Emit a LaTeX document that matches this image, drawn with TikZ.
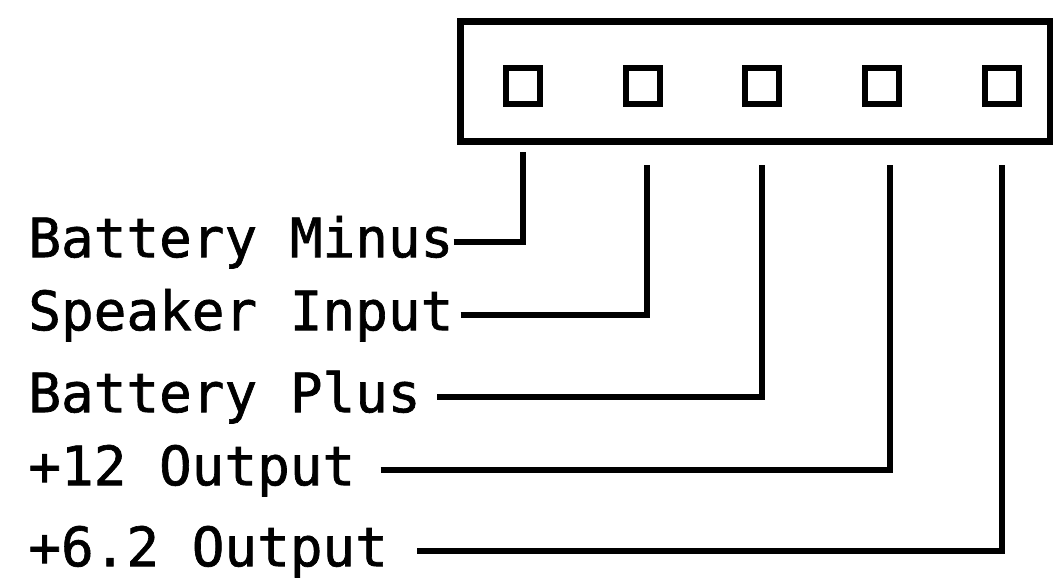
\documentclass[tikz,border=0pt]{standalone}
\usepackage{fontspec}
\newfontfamily\pinfont[FakeBold=1.2]{DejaVu Sans Mono}

\begin{document}
\begin{tikzpicture}[
conn/.style={draw=black,line width=0.14cm,minimum width=11.8cm,minimum height=2.4cm,inner sep=0pt},
pin/.style={draw=black,line width=0.12cm,minimum width=0.68cm,minimum height=0.72cm,inner sep=0pt},
lbl/.style={font=\pinfont\fontsize{30.9pt}{36pt}\selectfont,anchor=west,inner sep=0pt,text height=23.5pt,text depth=6.2pt},
lead/.style={draw=black,line width=0.12cm}]
\useasboundingbox (0,0) rectangle (21.06,-11.58);
% connector body and its five pins
\node[conn] (block) at (15.1,-1.64) {};
\node[pin] (p1) at (10.46,-1.72) {};
\node[pin] (p2) at (12.86,-1.72) {};
\node[pin] (p3) at (15.24,-1.72) {};
\node[pin] (p4) at (17.64,-1.72) {};
\node[pin] (p5) at (20.04,-1.72) {};
% lead ends below the body
\coordinate (t1) at (10.46,-3.04);
\coordinate (t2) at (12.94,-3.3);
\coordinate (t3) at (15.24,-3.3);
\coordinate (t4) at (17.8,-3.3);
\coordinate (t5) at (20.04,-3.3);
% pin names
\node[lbl] (minus) at (0.56,-4.84) {Battery Minus};
\node[lbl] (spk) at (0.56,-6.3) {Speaker Input};
\node[lbl] (plus) at (0.56,-7.94) {Battery Plus};
\node[lbl] (out12) at (0.56,-9.4) {+12 Output};
\node[lbl] (out62) at (0.56,-11.02) {+6.2 Output};
\draw[lead] (minus.east) -| (t1);
\draw[lead] ([xshift=0.14cm]spk.east) -| (t2);
\draw[lead] ([xshift=0.32cm]plus.east) -| (t3);
\draw[lead] ([xshift=0.5cm]out12.east) -| (t4);
\draw[lead] ([xshift=0.58cm]out62.east) -| (t5);
\end{tikzpicture}
\end{document}
